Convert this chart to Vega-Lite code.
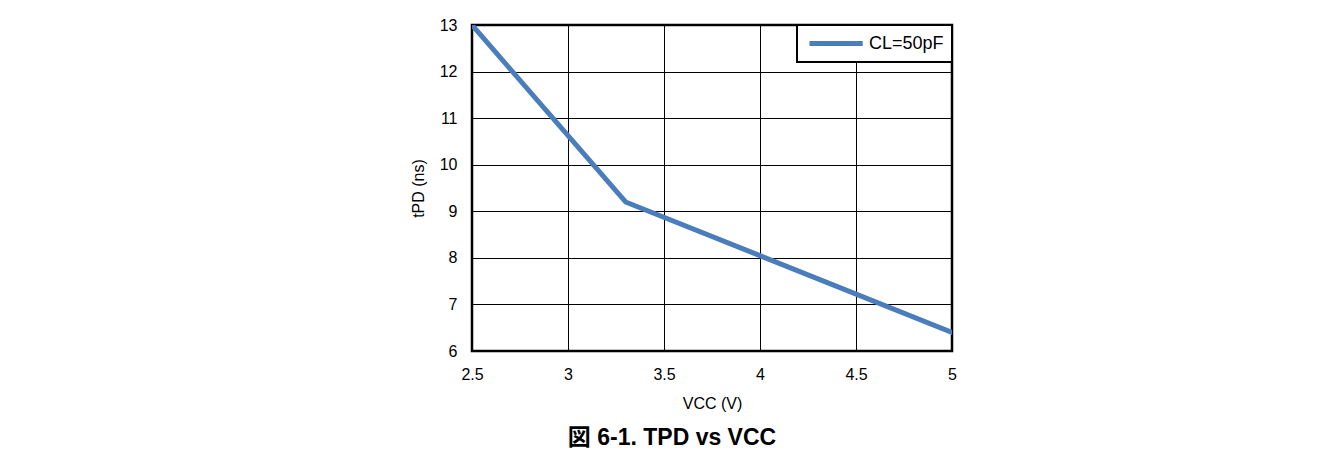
{
  "$schema": "https://vega.github.io/schema/vega-lite/v6.json",
  "width": 480,
  "height": 326,
  "autosize": {"type": "none"},
  "padding": {"left": 472, "top": 25, "right": 386, "bottom": 109},
  "background": "white",
  "title": {
    "text": "図 6-1. TPD vs VCC",
    "orient": "bottom",
    "anchor": "middle",
    "frame": "group",
    "dx": -40,
    "offset": 16,
    "fontSize": 23,
    "fontWeight": "bold",
    "font": "Liberation Sans, Noto Sans CJK JP",
    "color": "black"
  },
  "data": {
    "values": [
      {"vcc": 2.5, "tpd": 13.0, "series": "CL=50pF"},
      {"vcc": 3.3, "tpd": 9.2, "series": "CL=50pF"},
      {"vcc": 5.0, "tpd": 6.4, "series": "CL=50pF"}
    ]
  },
  "mark": {"type": "line", "strokeWidth": 5, "strokeCap": "round", "strokeJoin": "round", "clip": true},
  "encoding": {
    "x": {
      "field": "vcc",
      "type": "quantitative",
      "scale": {"domain": [2.5, 5], "nice": false, "zero": false},
      "axis": {
        "title": "VCC (V)",
        "values": [2.5, 3, 3.5, 4, 4.5, 5],
        "format": "~g",
        "labelFlush": false,
        "labelPadding": 15,
        "titlePadding": 13
      }
    },
    "y": {
      "field": "tpd",
      "type": "quantitative",
      "scale": {"domain": [6, 13], "nice": false, "zero": false},
      "axis": {
        "title": "tPD (ns)",
        "values": [6, 7, 8, 9, 10, 11, 12, 13],
        "labelFlush": false,
        "labelPadding": 15,
        "titlePadding": 13
      }
    },
    "color": {
      "field": "series",
      "type": "nominal",
      "scale": {"range": ["#4A7DBB"]},
      "legend": {
        "title": null,
        "orient": "top-right",
        "offset": 0,
        "strokeColor": "black",
        "fillColor": "white",
        "padding": 8,
        "symbolType": "M-0.75,0H5.9",
        "symbolSize": 256,
        "symbolStrokeWidth": 5,
        "labelFontSize": 18,
        "labelFont": "Liberation Sans",
        "labelColor": "black",
        "labelOffset": 43
      }
    }
  },
  "config": {
    "view": {"stroke": "black", "strokeWidth": 2.5},
    "legend": {"strokeWidth": 2},
    "axis": {
      "domain": false,
      "ticks": false,
      "grid": true,
      "gridColor": "black",
      "gridWidth": 1,
      "gridOpacity": 1,
      "labelFont": "Liberation Sans",
      "labelFontSize": 16,
      "labelColor": "black",
      "titleFont": "Liberation Sans",
      "titleFontSize": 16,
      "titleFontWeight": "normal",
      "titleColor": "black"
    }
  }
}
